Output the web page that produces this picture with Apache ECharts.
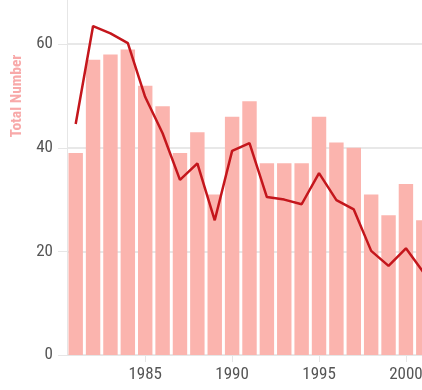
<!DOCTYPE html>
<html>
<head>
<meta charset="utf-8">
<script src="https://cdn.jsdelivr.net/npm/echarts@6/dist/echarts.min.js"></script>
<style>html,body{margin:0;padding:0;background:#fff}#c{width:422px;height:390px}</style>
</head>
<body>
<div id="c"></div>
<script>
var years = ['1981','1982','1983','1984','1985','1986','1987','1988','1989','1990','1991','1992','1993','1994','1995','1996','1997','1998','1999','2000','2001'];
var barValues = [39,57,58,59,52,48,39,43,31,46,49,37,37,37,46,41,40,31,27,33,26];
var lineValues = [44.6,63.5,62.1,60.2,49.8,42.8,33.8,37,26,39.4,40.9,30.5,30,29.1,35.1,29.9,28.1,20.1,17.2,20.6,16];
var yTicks = [0,20,40,60,80,100];

var FONT = "'Roboto Condensed', 'Liberation Sans Narrow', 'DejaVu Sans Condensed', Roboto, sans-serif";
var chart = echarts.init(document.getElementById('c'), null, {renderer:'canvas'});
var showLabel = function (idx, val) { return Number(val) % 5 === 0; };
chart.setOption({
  animation: false,
  grid: {left: 67, right: -10, top: -163, bottom: 35, containLabel: false, outerBoundsMode: 'none'},
  xAxis: {
    type: 'category',
    data: years,
    boundaryGap: true,
    axisLine: {show: true, lineStyle: {color: '#e6e6e6', width: 1}},
    axisTick: {show: true, alignWithLabel: true, interval: showLabel, length: 7, lineStyle: {color: '#e6e6e6'}},
    axisLabel: {interval: showLabel, color: '#555', fontFamily: FONT, fontSize: 17, margin: 11}
  },
  yAxis: {
    type: 'value',
    min: yTicks[0],
    max: yTicks[yTicks.length - 1],
    interval: 20,
    name: 'Total Number',
    nameLocation: 'middle',
    nameGap: 42,
    nameMoveOverlap: false,
    nameTextStyle: {color: '#f8a9a9', fontFamily: FONT, fontWeight: 'bold', fontSize: 15.5},
    axisLine: {show: true, lineStyle: {color: '#e6e6e6'}},
    axisTick: {show: true, length: 9, lineStyle: {color: '#e6e6e6'}},
    axisLabel: {color: '#555', fontFamily: FONT, fontSize: 17, margin: 14},
    splitLine: {show: true, lineStyle: {color: '#e8e8e8', width: 2}}
  },
  series: [
    {type: 'bar', data: barValues, barCategoryGap: '17%', itemStyle: {color: '#fbb4ae'}},
    {type: 'line', data: lineValues, symbol: 'none', lineStyle: {color: '#c4161c', width: 2.5}, itemStyle: {color: '#c4161c'}}
  ]
});
</script>
</body>
</html>
